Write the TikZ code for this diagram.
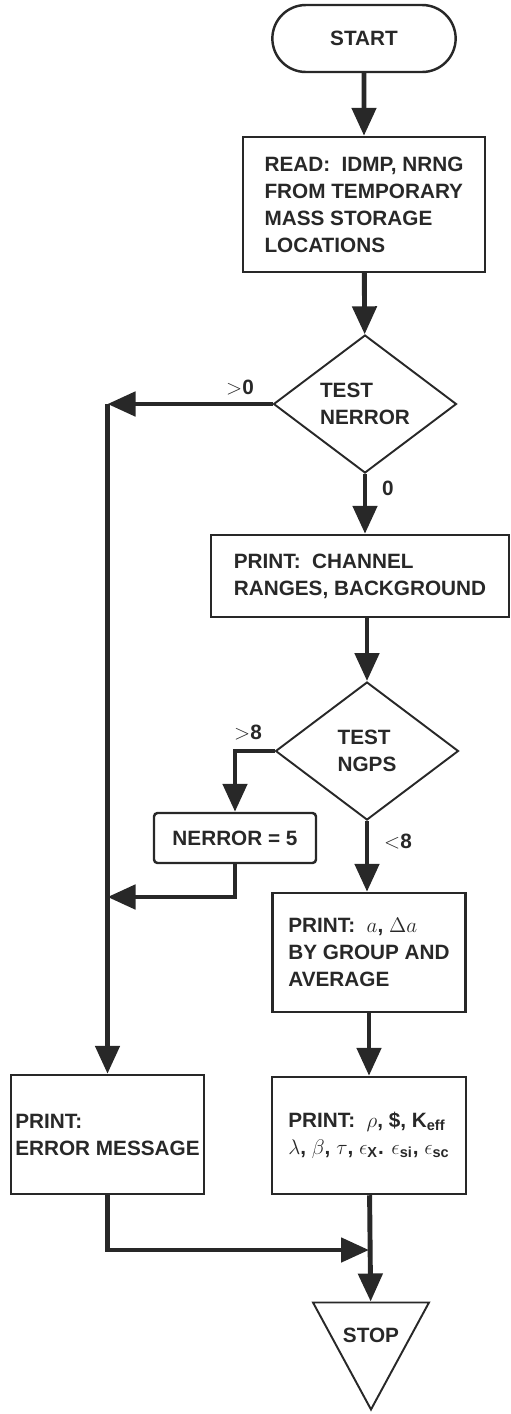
\documentclass[tikz,border=0pt]{standalone}
\usepackage{amsmath}
\usepackage{fontspec}
\setmainfont{Liberation Sans}
\usepackage{tikz}
\usetikzlibrary{arrows.meta,shapes.geometric,shapes.misc,positioning}
\usepackage{xcolor}
\definecolor{fcink}{RGB}{40,40,40}

\begin{document}
\begin{tikzpicture}[>={Triangle[length=5.6mm,width=4.8mm]},
  every node/.style={font=\bfseries\fontsize{11.8}{15.4}\selectfont,text=fcink},
  fcbox/.style={draw=fcink,line width=1.4pt,align=left,inner sep=2pt},
  fcdiam/.style={diamond,draw=fcink,line width=1.1pt,align=left,inner sep=0pt,
    minimum width=3.66cm,minimum height=2.76cm},
  fcflow/.style={->,draw=fcink,line width=2.8pt}]
\useasboundingbox (0,0) rectangle (10.22,-28.28);
\node[rounded rectangle,draw=fcink,line width=1.4pt,minimum width=3.9cm,minimum height=1.34cm] (start) at (7.28,-0.77) {START};
\node[fcbox,minimum width=4.84cm,minimum height=2.7cm] (read) at (7.28,-4.09)
  {READ:\ \ IDMP, NRNG\\FROM TEMPORARY\\MASS STORAGE\\LOCATIONS};
\node[fcdiam] (nerror) at (7.3,-8.08) {TEST\\NERROR};
\node[fcbox,minimum width=5.96cm,minimum height=1.64cm] (chan) at (7.2,-11.52)
  {PRINT:\ \ CHANNEL\\RANGES, BACKGROUND};
\node[fcdiam] (ngps) at (7.34,-15.02) {TEST\\NGPS};
\node[fcbox,rounded corners=2pt,minimum width=3.24cm,minimum height=1cm] (set) at (4.7,-16.76) {NERROR = 5};
\node[fcbox,minimum width=3.86cm,minimum height=2.38cm] (avg) at (7.38,-19.05)
  {PRINT:\ \ $a$, $\Delta a$\\BY GROUP AND\\AVERAGE};
\node[fcbox,minimum width=3.88cm,minimum height=2.34cm] (rho) at (7.38,-22.71)
  {PRINT:\ \ $\rho$, \$, K$_{\text{eff}}$\\$\lambda$, $\beta$, $\tau$, $\epsilon_{\text{X}}$. $\epsilon_{\text{si}}$, $\epsilon_{\text{sc}}$};
\node[fcbox,minimum width=3.86cm,minimum height=2.38cm] (error) at (2.15,-22.69)
  {PRINT:\\ERROR MESSAGE};
\node[isosceles triangle,isosceles triangle stretches,shape border rotate=-90,
  draw=fcink,line width=1.1pt,inner sep=0pt,minimum width=2.32cm,minimum height=2.14cm,
  anchor=apex] (stop) at (7.42,-28.24) {};
\node (stoptext) at (7.42,-26.7) {STOP};
% branch labels
\node (gt0) at (4.8,-7.76) {$>$0};
\node (zero) at (7.76,-9.76) {0};
\node (gt8) at (4.96,-14.66) {$>$8};
\node (lt8) at (7.96,-16.84) {$<$8};
% flow lines
\coordinate (join) at (2.15,-17.94);
\coordinate (merge) at (7.38,-25.0);
\draw[fcflow] (start) -- (read);
\draw[fcflow] (read) -- (nerror);
\draw[fcflow] (nerror.west) -- (nerror.west -| error.north);
\draw[fcflow] (nerror.west -| error.north) -- (error.north);
\draw[fcflow] (nerror.south) -- (nerror.south |- chan.north);
\draw[fcflow] (chan.south -| ngps) -- (ngps.north);
\draw[fcflow] (ngps.west) -| (set.north);
\draw[fcflow] (set.south) |- (join);
\draw[fcflow] (ngps.south) -- (avg.north -| ngps.south);
\draw[fcflow] (avg) -- (rho);
\draw[fcflow] (rho) -- (stop);
\draw[fcflow] (error.south) |- (merge);
\end{tikzpicture}
\end{document}
